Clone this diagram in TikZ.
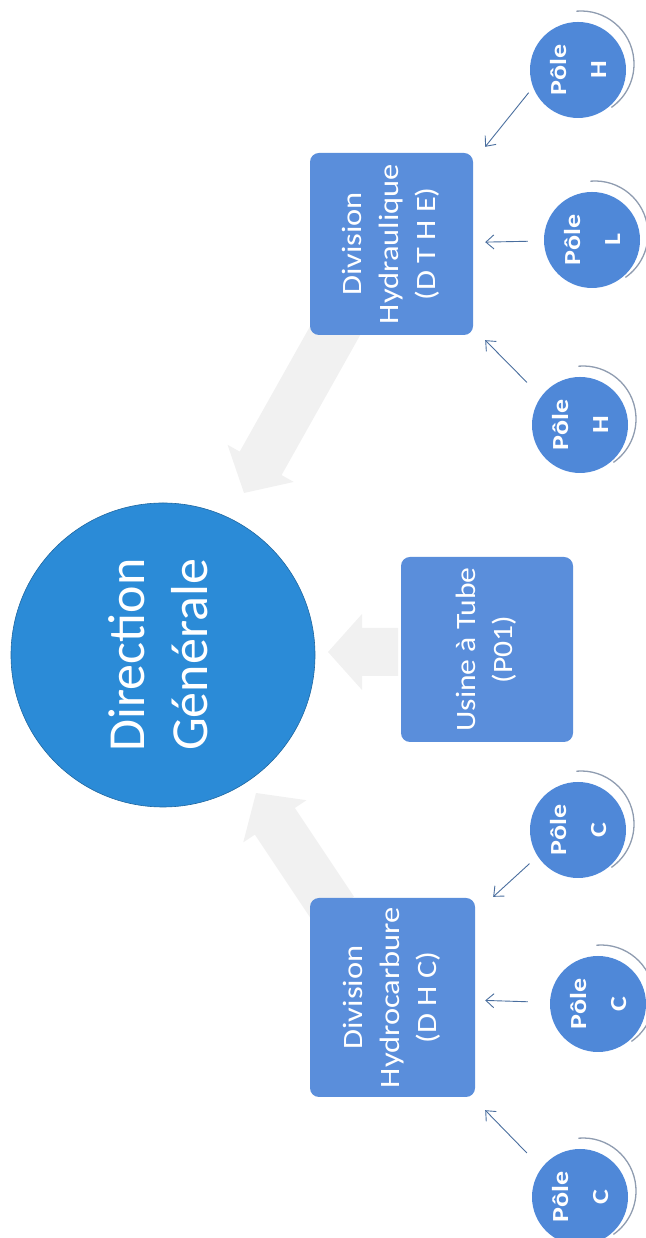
\documentclass[tikz,border=0pt]{standalone}
\usepackage{fontspec}
\setmainfont{Carlito}
\usetikzlibrary{arrows.meta,calc}

\definecolor{dgblue}{HTML}{2B8BD7}
\definecolor{boxblue}{HTML}{5A8EDB}
\definecolor{poleblue}{HTML}{4F88D8}
\definecolor{linkblue}{HTML}{4A6E9E}
\definecolor{flowgray}{HTML}{F1F1F1}
\definecolor{rimgray}{HTML}{8F9CB0}

\tikzset{
  dg/.style={circle, fill=dgblue, draw=dgblue!75!black, line width=0.6pt,
    minimum size=304pt, inner sep=0pt, text=white,
    font=\fontsize{52}{63}\selectfont},
  unit/.style={rectangle, rounded corners=9pt, fill=boxblue, inner sep=0pt,
    text=white, font=\fontsize{28}{37}\selectfont},
  pole/.style={circle, fill=poleblue, minimum size=96pt, inner sep=0pt,
    text=white, font=\fontsize{23}{40}\bfseries\selectfont},
  link/.style={draw=linkblue, line width=0.9pt,
    -{Straight Barb[length=8pt,width=14pt]}},
  rim/.style={draw=rimgray, line width=1.3pt},
}

% vertical text block (reads bottom to top)
\newcommand\uptext[2]{\rotatebox{90}{\scalebox{#1}[1]{\begin{tabular}{@{}c@{}}#2\end{tabular}}}}

% wide light-grey block arrow from #1 to the tip #2
\newcommand\flowarrow[2]{%
  \coordinate (fa-h) at ($(#2)!34pt!(#1)$);
  \fill[flowgray] ($(#1)!24pt!90:(#2)$) -- ($(fa-h)!24pt!90:(#2)$)
    -- ($(fa-h)!38pt!90:(#2)$) -- (#2) -- ($(fa-h)!38pt!-90:(#2)$)
    -- ($(fa-h)!24pt!-90:(#2)$) -- ($(#1)!24pt!-90:(#2)$) -- cycle;}

% grey rim on the right of a pole disc
\newcommand\polerim[1]{%
  \draw[rim] ([shift={(3,6)}]#1.center) ++(95:53pt)
    arc[start angle=95, end angle=-55, radius=53pt];}

\begin{document}
\begin{tikzpicture}[x=1pt, y=1pt]
\useasboundingbox (0,0) rectangle (645,1238);

% flows towards the head office
\coordinate (usS) at (398,586);  \coordinate (usT) at (328,586);
\coordinate (hyS) at (340,916);  \coordinate (hyT) at (244,745);
\coordinate (hcS) at (334,328);  \coordinate (hcT) at (256,445);
\flowarrow{usS}{usT}
\flowarrow{hyS}{hyT}
\flowarrow{hcS}{hcT}

% head office
\node[dg] (dg) at (163,583) {\uptext{1}{Direction\\Générale}};

% divisions and plant
\node[unit, minimum width=163pt, minimum height=182pt] (hyd) at (391.5,994)
  {\uptext{1.16}{Division\\Hydraulique\\(D T H E)}};
\node[unit, minimum width=172pt, minimum height=185pt] (usine) at (487,588.5)
  {\uptext{1.13}{Usine à Tube\\(P01)}};
\node[unit, minimum width=165pt, minimum height=199pt] (hc) at (392.5,240.5)
  {\uptext{1.16}{Division\\Hydrocarbure\\(D H C)}};

% poles
\node[pole] (pH1) at (578,1168) {\uptext{1.22}{Pôle\\H}};
\node[pole] (pL)  at (592,998)  {\uptext{1.22}{Pôle\\L}};
\node[pole] (pH2) at (580,813)  {\uptext{1.22}{Pôle\\H}};
\node[pole] (pC1) at (578,408)  {\uptext{1.22}{Pôle\\C}};
\node[pole] (pC2) at (598,234)  {\uptext{1.22}{Pôle\\C}};
\node[pole] (pC3) at (580,41)   {\uptext{1.22}{Pôle\\C}};

\polerim{pH1} \polerim{pL} \polerim{pH2}
\polerim{pC1} \polerim{pC2} \polerim{pC3}

% poles report to their division
\draw[link, shorten <=7pt]  (pH1.201) -- ([shift={(12,6)}]hyd.north east);
\draw[link, shorten <=16pt, shorten >=12pt] (pL) -- (hyd);
\draw[link, shorten <=20pt] (pH2.144) -- ([shift={(12,-5)}]hyd.south east);
\draw[link, shorten <=11pt] (pC1.213) -- ([shift={(18,1)}]hc.north east);
\draw[link, shorten <=22pt, shorten >=10pt] (pC2) -- (hc);
\draw[link, shorten <=21pt] (pC3.143) -- ([shift={(10,-13)}]hc.south east);
\end{tikzpicture}
\end{document}
